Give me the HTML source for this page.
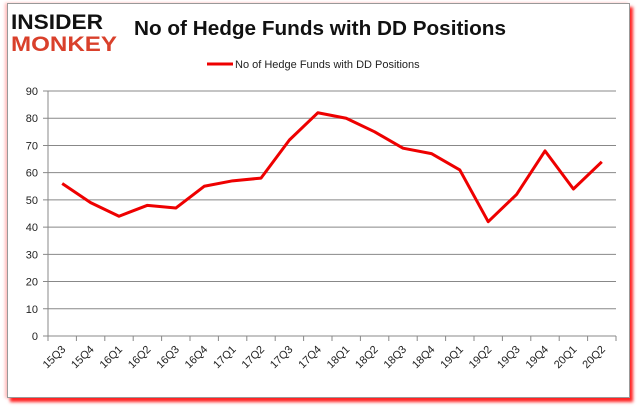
<!DOCTYPE html>
<html><head><meta charset="utf-8"><style>
body{margin:0;background:#fff;width:637px;height:408px;overflow:hidden;font-family:"Liberation Sans",sans-serif}
#frame{position:absolute;left:7px;top:3px;width:621px;height:393px;border:1px solid #999;background:#fff;box-shadow:3px 4px 3px #f22, -2px 0 3px #fbb}
</style></head><body>
<div id="frame"></div>
<svg id="chart" width="637" height="408" style="position:absolute;left:0;top:0">
<text x="11" y="29" font-size="21" font-weight="bold" fill="#111" font-family="Liberation Sans" textLength="92" lengthAdjust="spacingAndGlyphs">INSIDER</text>
<text x="11" y="51" font-size="21" font-weight="bold" fill="#d9402b" font-family="Liberation Sans" textLength="106" lengthAdjust="spacingAndGlyphs">MONKEY</text>
<text x="134" y="35" font-size="20" font-weight="bold" fill="#111" textLength="372" lengthAdjust="spacingAndGlyphs">No of Hedge Funds with DD Positions</text>
<line x1="207" y1="64" x2="233" y2="64" stroke="#e00" stroke-width="3"/>
<text x="235" y="68" font-size="11" fill="#222">No of Hedge Funds with DD Positions</text>
<g id="grid"></g><g id="xt"></g><path id="line" fill="none" stroke="#e00" stroke-width="3" stroke-linejoin="round"/>
</svg>
<script>
const categories=["15Q3","15Q4","16Q1","16Q2","16Q3","16Q4","17Q1","17Q2","17Q3","17Q4","18Q1","18Q2","18Q3","18Q4","19Q1","19Q2","19Q3","19Q4","20Q1","20Q2"];
const values=[56,49,44,48,47,55,57,58,72,82,80,75,69,67,61,42,52,68,54,64];
const yTicks=[0,10,20,30,40,50,60,70,80,90];
const L=48,R=616,T=91,B=336,ymax=90;
const ns="http://www.w3.org/2000/svg";
const step=(R-L)/categories.length;
const x=i=>L+step*(i+0.5), y=v=>B-(v/ymax)*(B-T);
const g=document.getElementById('grid'), xt=document.getElementById('xt');
function mk(tag,a,p){const e=document.createElementNS(ns,tag);for(const k in a)e.setAttribute(k,a[k]);p.appendChild(e);return e;}
yTicks.forEach(t=>{
 const l=mk('line',{x1:L-5,x2:R,y1:y(t),y2:y(t),stroke:'#888','stroke-width':1},g);
 
 
 const tx=mk('text',{x:L-10,y:y(t)+4,'font-size':11,'text-anchor':'end',fill:'#222'},g);tx.textContent=t;
 
 
});
const ax=mk('line',{x1:L,x2:L,y1:T,y2:B,stroke:'#888'},g);


categories.forEach((c,i)=>{
 const tk=mk('line',{x1:L+step*i,x2:L+step*i,y1:B,y2:B+5,stroke:'#888'},xt);
 
 
 if(i==categories.length-1){const e=mk('line',{x1:R,x2:R,y1:B,y2:B+5,stroke:'#888'},xt);}
 const cx=x(i)+4,cy=B+14;
 const t=mk('text',{x:cx,y:cy,'font-size':11,'text-anchor':'end',fill:'#222',transform:`rotate(-45 ${cx} ${cy})`},xt);t.textContent=c;
 
 
});
document.getElementById('line').setAttribute('d',values.map((v,i)=>(i?'L':'M')+x(i)+','+y(v)).join(''));
</script>
</body></html>
